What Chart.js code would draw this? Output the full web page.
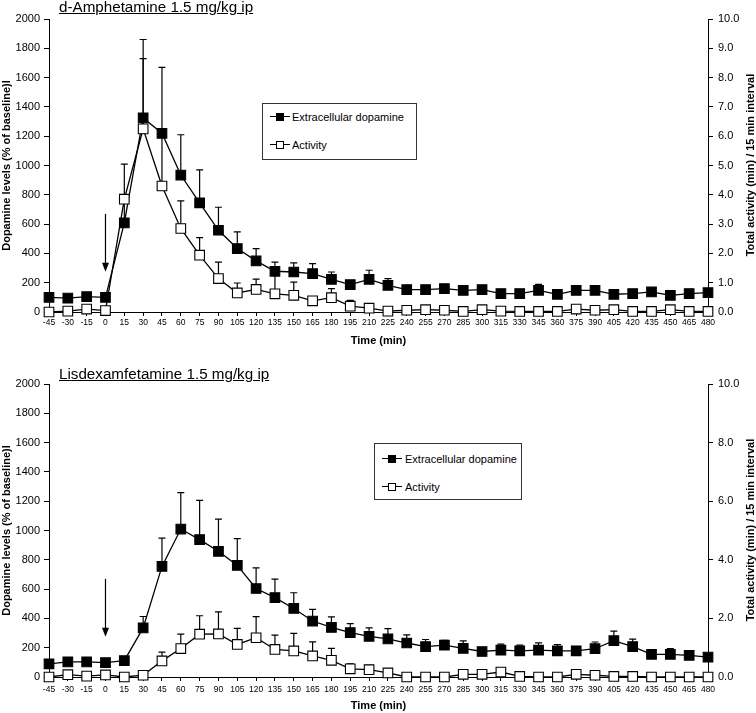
<!DOCTYPE html>
<html>
<head>
<meta charset="utf-8">
<script src="https://cdn.jsdelivr.net/npm/chart.js@4.4.0/dist/chart.umd.min.js"></script>
<style>
  body { margin: 0; background: #fff; font-family: 'Liberation Sans', Arial, sans-serif; }
  #wrap { position: relative; width: 756px; height: 713px; overflow: hidden; }
  canvas { position: absolute; left: 0; }
  .title { position: absolute; left: 59px; font-size: 15.2px; line-height: 15px; text-decoration: underline; white-space: nowrap; }
  .ytitle-r { position: absolute; font-size: 11px; font-weight: bold; white-space: nowrap;
              transform: translate(-50%, -50%) rotate(-90deg); }
  .legend { position: absolute; box-sizing: border-box; border: 1px solid #333; background: #fff; font-size: 11px; }
  .legend .row { position: absolute; height: 12px; line-height: 12px; white-space: nowrap; }
  .legend .sym { position: absolute; top: 0; width: 20px; height: 12px; }
  .legend .sym::before { content: ''; position: absolute; left: 0; right: 0; top: 5px; border-top: 1.4px solid #000; }
  .legend .sym i { position: absolute; left: 6px; top: 2px; width: 6px; height: 6px; border: 1.3px solid #000; }
  .legend .txt { position: absolute; top: 0; }
</style>
</head>
<body>
<div id="wrap">
  <canvas id="amph" width="756" height="355" style="top:0"></canvas>
  <canvas id="lis" width="756" height="358" style="top:355px"></canvas>

  <div class="title" style="top:-1px">d-Amphetamine 1.5 mg/kg ip</div>
  <div class="title" style="top:366px">Lisdexamfetamine 1.5 mg/kg ip</div>

  <div class="ytitle-r" style="left:750px; top:165px">Total activity (min) / 15 min interval</div>
  <div class="ytitle-r" style="left:750px; top:530px">Total activity (min) / 15 min interval</div>

  <div class="legend" id="leg-amph" style="left:262px; top:103px; width:155px; height:57px"></div>
  <div class="legend" id="leg-lis" style="left:374px; top:443px; width:148px; height:57px"></div>
</div>

<script>
// sampling times (min), 0 = injection
const times = [-45, -30, -15, 0, 15, 30, 45, 60, 75, 90, 105, 120, 135, 150, 165, 180, 195, 210,
  225, 240, 255, 270, 285, 300, 315, 330, 345, 360, 375, 390, 405, 420, 435, 450, 465, 480];

// d-Amphetamine: dopamine (% of baseline) and activity (min / 15 min)
const ampDopamine = [100, 95, 105, 100, 608, 1325, 1220, 935, 745, 558, 433, 349, 278, 273, 262, 223, 187, 223,
  182, 153, 153, 160, 148, 153, 126, 126, 148, 121, 148, 148, 121, 126, 137, 114, 126, 132];
const ampDopamineSem = [15, 15, 15, 15, 150, 535, 450, 275, 225, 157, 114, 84, 63, 62, 68, 50, 20, 62,
  46, 15, 15, 15, 15, 15, 15, 15, 40, 15, 15, 15, 15, 15, 15, 15, 15, 15];
const ampActivity = [0.0, 0.03, 0.1, 0.05, 3.85, 6.25, 4.3, 2.85, 1.94, 1.14, 0.65, 0.77, 0.62, 0.57, 0.38, 0.49, 0.2, 0.13,
  0.03, 0.06, 0.08, 0.06, 0.02, 0.08, 0.03, 0.02, 0.02, 0.02, 0.1, 0.06, 0.08, 0.02, 0.02, 0.08, 0.02, 0.02];
const ampActivitySem = [0, 0, 0, 0, 1.2, 2.4, 1.7, 0.94, 0.6, 0.56, 0.34, 0.35, 0.73, 0.45, 0.08, 0.31, 0.2, 0.05,
  0, 0, 0, 0, 0, 0, 0, 0, 0, 0, 0, 0, 0, 0, 0, 0, 0, 0];

// Lisdexamfetamine
const lisDopamine = [90, 103, 103, 98, 112, 335, 755, 1010, 938, 858, 762, 604, 542, 468, 382, 338, 303, 278,
  260, 232, 207, 217, 196, 174, 183, 179, 183, 179, 179, 193, 248, 208, 155, 155, 148, 136];
const lisDopamineSem = [15, 15, 15, 15, 15, 78, 193, 249, 267, 219, 183, 141, 126, 107, 79, 72, 62, 57,
  70, 55, 49, 34, 50, 20, 41, 38, 50, 43, 15, 46, 65, 50, 15, 39, 15, 0];
const lisActivity = [0.0, 0.08, 0.03, 0.07, 0.0, 0.06, 0.55, 0.97, 1.46, 1.47, 1.11, 1.34, 0.94, 0.89, 0.72, 0.57, 0.28, 0.25,
  0.14, 0.0, 0.0, 0.0, 0.09, 0.09, 0.17, 0.02, 0.0, 0.0, 0.09, 0.06, 0.02, 0.02, 0.0, 0.0, 0.0, 0.0];
const lisActivitySem = [0, 0, 0, 0, 0, 0, 0.3, 0.49, 0.63, 0.75, 0.55, 0.72, 0.49, 0.6, 0.48, 0.41, 0.17, 0.15,
  0, 0, 0, 0, 0, 0, 0, 0, 0, 0, 0, 0, 0, 0, 0, 0, 0, 0];

const FONT = "'Liberation Sans', Arial, sans-serif";
const NARROW = "'Liberation Sans Narrow', 'Liberation Sans', Arial, sans-serif";

Chart.defaults.font.family = FONT;
Chart.defaults.color = '#000';

// upward SEM bars, drawn under the markers
const errorBars = {
  id: 'errorBars',
  beforeDatasetsDraw(chart) {
    const { ctx, scales } = chart;
    ctx.save();
    ctx.strokeStyle = '#000';
    ctx.lineWidth = 1.2;
    chart.data.datasets.forEach((ds) => {
      const y = scales[ds.yAxisID];
      (ds.errors || []).forEach((e, i) => {
        if (!e) return;
        const x = scales.x.getPixelForValue(i);
        const y0 = y.getPixelForValue(ds.data[i]);
        const y1 = y.getPixelForValue(ds.data[i] + e);
        ctx.beginPath();
        ctx.moveTo(x, y0);
        ctx.lineTo(x, y1);
        ctx.moveTo(x - 3.5, y1);
        ctx.lineTo(x + 3.5, y1);
        ctx.stroke();
      });
    });
    ctx.restore();
  },
};

// injection arrow at t = 0
const doseArrow = {
  id: 'doseArrow',
  afterDatasetsDraw(chart, args, o) {
    const { ctx, scales } = chart;
    const x = scales.x.getPixelForValue(times.indexOf(o.at));
    const top = scales.y.getPixelForValue(o.from);
    const tip = scales.y.getPixelForValue(o.to);
    ctx.save();
    ctx.strokeStyle = '#000';
    ctx.fillStyle = '#000';
    ctx.lineWidth = 1.2;
    ctx.beginPath();
    ctx.moveTo(x, top);
    ctx.lineTo(x, tip - 6);
    ctx.stroke();
    ctx.beginPath();
    ctx.moveTo(x - 3.5, tip - 9);
    ctx.lineTo(x + 3.5, tip - 9);
    ctx.lineTo(x, tip);
    ctx.closePath();
    ctx.fill();
    ctx.restore();
  },
};

function series(label, data, errors, axis, fill, order) {
  return {
    label, data, errors, yAxisID: axis, order,
    borderColor: '#000', borderWidth: 1.3, tension: 0, clip: false,
    pointStyle: 'rect', pointRadius: 6.8, pointHoverRadius: 6.8,
    pointBackgroundColor: fill, pointBorderColor: '#000', pointBorderWidth: 1.1,
  };
}

function axisLine() {
  return { display: true, color: '#000', width: 1 };
}

function makePanel(id, p) {
  return new Chart(document.getElementById(id), {
    type: 'line',
    data: {
      labels: times,
      datasets: [
        series('Extracellular dopamine', p.dopamine, p.dopamineSem, 'y', '#000', 1),
        series('Activity', p.activity, p.activitySem, 'y1', '#fff', 0),
      ],
    },
    options: {
      responsive: false,
      animation: false,
      devicePixelRatio: 1,
      events: [],
      layout: { padding: p.padding },
      plugins: {
        legend: { display: false },
        tooltip: { enabled: false },
        doseArrow: { at: 0, from: 670, to: 275 },
      },
      scales: {
        x: {
          type: 'category',
          offset: false,
          grid: { drawOnChartArea: false, tickLength: 4, color: '#000' },
          border: axisLine(),
          ticks: { autoSkip: false, maxRotation: 0, minRotation: 0, padding: p.xPad, font: { family: NARROW, size: 8.5 } },
          title: { display: true, text: 'Time (min)', font: { size: 11, weight: 'bold' }, padding: { top: 0, bottom: p.xTitlePad } },
          afterFit: (s) => { s.height = p.xHeight; },
        },
        y: {
          position: 'left',
          min: 0,
          max: 2000,
          grid: { drawOnChartArea: false, tickLength: 5, color: '#000' },
          border: axisLine(),
          ticks: { stepSize: 200, padding: 4, font: { size: 11 }, callback: (v) => String(v) },
          title: { display: true, text: 'Dopamine levels (% of baseline)l', font: { size: 11, weight: 'bold' }, padding: 0 },
          afterFit: (s) => { s.width = 49; },
        },
        y1: {
          position: 'right',
          min: 0,
          max: 10,
          grid: { drawOnChartArea: false, tickLength: 5, color: '#000' },
          border: axisLine(),
          ticks: { stepSize: p.rightStep, padding: 5, font: { size: 11 }, callback: (v) => v.toFixed(1) },
          afterFit: (s) => { s.width = 48; },
        },
      },
    },
    plugins: [errorBars, doseArrow],
  });
}

function buildLegend(el, chart, rows) {
  chart.data.datasets.forEach((ds, i) => {
    const row = document.createElement('div');
    row.className = 'row';
    row.style.left = rows.left + 'px';
    row.style.top = rows.top[i] + 'px';
    row.innerHTML = `<span class="sym"><i style="background:${ds.pointBackgroundColor}"></i></span>` +
      `<span class="txt" style="left:${rows.text}px">${ds.label}</span>`;
    el.appendChild(row);
  });
}

const amph = makePanel('amph', {
  dopamine: ampDopamine, dopamineSem: ampDopamineSem,
  activity: ampActivity, activitySem: ampActivitySem,
  padding: { top: 19, left: 0, right: 0, bottom: 3 },
  xHeight: 40, xPad: 2, xTitlePad: 4, rightStep: 1,
});

const lis = makePanel('lis', {
  dopamine: lisDopamine, dopamineSem: lisDopamineSem,
  activity: lisActivity, activitySem: lisActivitySem,
  padding: { top: 29, left: 0, right: 0, bottom: 0 },
  xHeight: 36, xPad: 4, xTitlePad: 0, rightStep: 2,
});

buildLegend(document.getElementById('leg-amph'), amph, { left: 7, top: [7, 35], text: 22 });
buildLegend(document.getElementById('leg-lis'), lis, { left: 7, top: [9, 37], text: 23 });
</script>
</body>
</html>
